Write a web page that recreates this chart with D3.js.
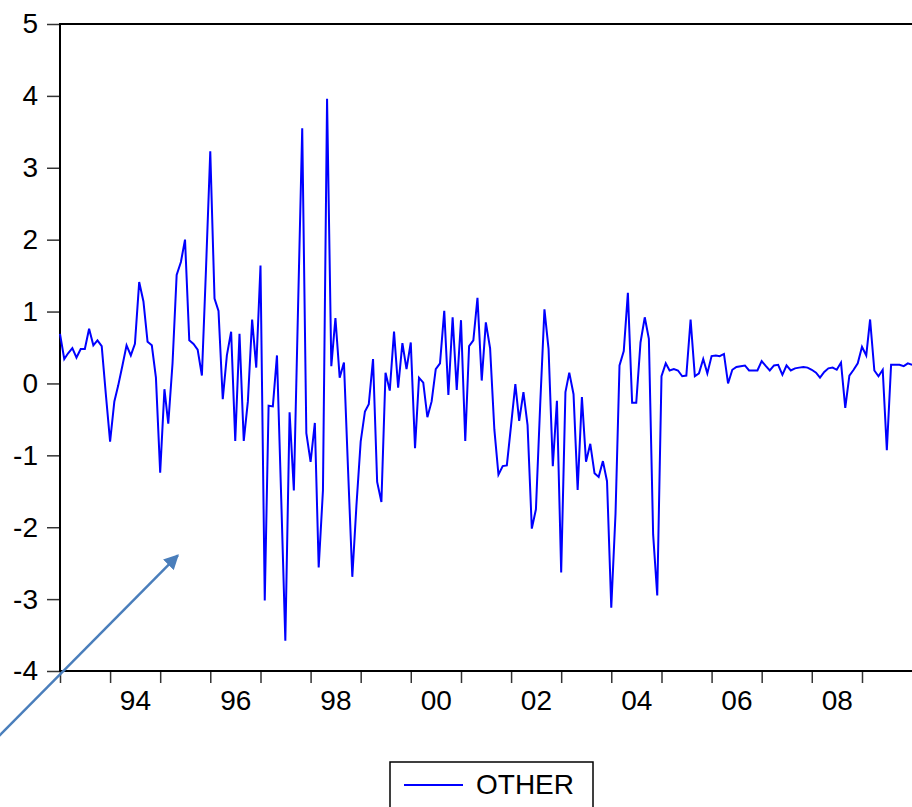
<!DOCTYPE html>
<html>
<head>
<meta charset="utf-8">
<script src="https://cdn.jsdelivr.net/npm/d3@7"></script>
<style>
  body { margin: 0; background: #fff; }
  svg { display: block; font-family: "Liberation Sans", Arial, sans-serif; }
</style>
</head>
<body>
<svg width="912" height="807"></svg>
<script>
// monthly series OTHER, 1993M01 .. 2010M01
var startMonth = new Date(1993, 0, 1);
var other = [
  0.69, 0.34, 0.42, 0.49, 0.36, 0.48, 0.48, 0.76, 0.53, 0.60, 0.52, -0.15,
  -0.81, -0.25, -0.03, 0.25, 0.53, 0.39, 0.55, 1.41, 1.14, 0.58, 0.53, 0.08,
  -1.24, -0.08, -0.56, 0.28, 1.51, 1.69, 2.00, 0.60, 0.55, 0.47, 0.11, 1.60,
  3.23, 1.18, 1.01, -0.22, 0.39, 0.72, -0.80, 0.69, -0.80, -0.25, 0.89, 0.22,
  1.64, -3.02, -0.31, -0.32, 0.39, -1.60, -3.58, -0.40, -1.49, 1.00, 3.55, -0.69,
  -1.09, -0.55, -2.56, -1.49, 3.96, 0.24, 0.91, 0.08, 0.29, -1.20, -2.69, -1.70,
  -0.81, -0.39, -0.29, 0.34, -1.37, -1.65, 0.15, -0.10, 0.72, -0.06, 0.56, 0.20,
  0.57, -0.90, 0.08, 0.01, -0.47, -0.25, 0.20, 0.28, 1.01, -0.16, 0.92, -0.09,
  0.88, -0.80, 0.52, 0.60, 1.19, 0.04, 0.85, 0.49, -0.64, -1.27, -1.15, -1.14,
  -0.58, -0.01, -0.52, -0.12, -0.58, -2.02, -1.75, -0.30, 1.03, 0.48, -1.15, -0.24,
  -2.63, -0.12, 0.15, -0.15, -1.48, -0.19, -1.09, -0.84, -1.25, -1.30, -1.08, -1.36,
  -3.12, -1.81, 0.25, 0.45, 1.26, -0.27, -0.27, 0.57, 0.92, 0.62, -2.10, -2.95,
  0.10, 0.28, 0.18, 0.20, 0.18, 0.10, 0.11, 0.89, 0.10, 0.14, 0.34, 0.14,
  0.38, 0.39, 0.38, 0.41, 0.00, 0.19, 0.23, 0.24, 0.25, 0.18, 0.18, 0.18,
  0.31, 0.24, 0.18, 0.25, 0.26, 0.12, 0.25, 0.18, 0.21, 0.22, 0.23, 0.22,
  0.19, 0.15, 0.08, 0.16, 0.21, 0.22, 0.19, 0.29, -0.34, 0.11, 0.19, 0.28,
  0.51, 0.39, 0.89, 0.18, 0.10, 0.19, -0.93, 0.26, 0.26, 0.26, 0.24, 0.28,
  0.26
];
var yTicks = [-4, -3, -2, -1, 0, 1, 2, 3, 4, 5];
var yearTicks = d3.range(1993, 2010);
var yearLabels = [1994, 1996, 1998, 2000, 2002, 2004, 2006, 2008];
var seriesName = "OTHER";

var data = other.map(function (v, i) {
    return { date: d3.timeMonth.offset(startMonth, i), value: v };
});

var svg = d3.select("svg"),
    plotLeft = 60, plotTop = 24, plotBottom = 671, plotRight = 912;

var x = d3.scaleTime()
    .domain([new Date(1993, 0, 1), new Date(2009, 0, 1)])
    .range([plotLeft, 862]);

var y = d3.scaleLinear()
    .domain([-4, 5])
    .range([plotBottom, plotTop]);

var labelFont = 28;

// frame top line
svg.append("line")
    .attr("x1", plotLeft).attr("x2", plotRight)
    .attr("y1", plotTop).attr("y2", plotTop)
    .attr("stroke", "#000").attr("stroke-width", 2);

// y axis
var gy = svg.append("g")
    .attr("transform", "translate(" + plotLeft + ",0)")
    .call(d3.axisLeft(y).tickValues(yTicks).tickSize(13).tickPadding(9)
        .tickFormat(function (d) { return String(d); }));
gy.select(".domain").remove();
gy.selectAll(".tick line").attr("stroke", "#333").attr("stroke-width", 1.5);
gy.selectAll("text").attr("font-size", labelFont).attr("fill", "#000")
    .attr("font-family", "Liberation Sans, Arial, sans-serif");

svg.append("line")
    .attr("x1", plotLeft).attr("x2", plotLeft)
    .attr("y1", plotTop - 1).attr("y2", plotBottom + 1)
    .attr("stroke", "#000").attr("stroke-width", 2);

// x axis: year ticks
var gx = svg.append("g")
    .attr("transform", "translate(0," + plotBottom + ")")
    .call(d3.axisBottom(x)
        .tickValues(yearTicks.map(function (yr) { return new Date(yr, 0, 1); }))
        .tickSize(12).tickFormat(""));
gx.select(".domain").remove();
gx.selectAll(".tick line").attr("stroke", "#333").attr("stroke-width", 1.5);

svg.append("line")
    .attr("x1", plotLeft).attr("x2", plotRight)
    .attr("y1", plotBottom).attr("y2", plotBottom)
    .attr("stroke", "#000").attr("stroke-width", 2);

// x axis labels at mid-year
var gl = svg.append("g")
    .attr("transform", "translate(0," + plotBottom + ")")
    .call(d3.axisBottom(x)
        .tickValues(yearLabels.map(function (yr) { return new Date(yr, 6, 1); }))
        .tickSize(0).tickPadding(19).tickFormat(d3.timeFormat("%y")));
gl.select(".domain").remove();
gl.selectAll("text").attr("font-size", labelFont).attr("fill", "#000")
    .attr("font-family", "Liberation Sans, Arial, sans-serif");

// the series
var line = d3.line()
    .x(function (d) { return x(d.date); })
    .y(function (d) { return y(d.value); });

svg.append("path")
    .datum(data)
    .attr("fill", "none")
    .attr("stroke", "#0000ff")
    .attr("stroke-width", 2)
    .attr("stroke-linejoin", "miter")
    .attr("d", line);

// annotation arrow
var arrowTail = { date: new Date(1991, 9, 1), value: -4.93 };
var arrowTip = { date: new Date(1995, 4, 10), value: -2.39 };
svg.append("defs").append("marker")
    .attr("id", "head")
    .attr("viewBox", "0 0 10 10")
    .attr("refX", 9).attr("refY", 5)
    .attr("markerWidth", 6).attr("markerHeight", 6)
    .attr("markerUnits", "strokeWidth")
    .attr("orient", "auto")
    .append("path")
    .attr("d", "M0,0L10,5L0,10Z")
    .attr("fill", "#4a7ebb");

svg.append("line")
    .attr("x1", x(arrowTail.date)).attr("y1", y(arrowTail.value))
    .attr("x2", x(arrowTip.date)).attr("y2", y(arrowTip.value))
    .attr("stroke", "#4a7ebb")
    .attr("stroke-width", 2.5)
    .attr("marker-end", "url(#head)");

// legend
var lg = svg.append("g").attr("transform", "translate(390,762)");
lg.append("rect")
    .attr("width", 203).attr("height", 60)
    .attr("fill", "#fff").attr("stroke", "#000").attr("stroke-width", 1.5);
lg.append("line")
    .attr("x1", 14).attr("x2", 73).attr("y1", 23).attr("y2", 23)
    .attr("stroke", "#0000ff").attr("stroke-width", 2);
lg.append("text")
    .attr("x", 86).attr("y", 32)
    .attr("font-size", labelFont)
    .attr("fill", "#000")
    .text(seriesName);
</script>
</body>
</html>
